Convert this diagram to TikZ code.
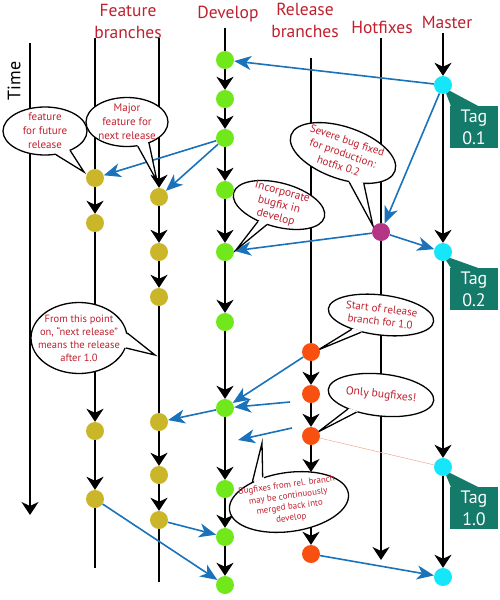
\documentclass[tikz,border=0pt]{standalone}
\usepackage{fontspec}
\setmainfont{PT Sans}
\usetikzlibrary{arrows.meta,shapes.geometric,calc}
\definecolor{devgreen}{RGB}{112,232,28}
\definecolor{featolive}{RGB}{202,182,40}
\definecolor{relorange}{RGB}{248,80,16}
\definecolor{hotpurple}{RGB}{180,52,134}
\definecolor{mascyan}{RGB}{22,230,250}
\definecolor{tagteal}{RGB}{20,122,105}
\definecolor{mergeblue}{RGB}{26,115,186}
\definecolor{textred}{RGB}{192,32,46}
\definecolor{salmon}{RGB}{240,170,150}
\pgfdeclarelayer{bg}
\pgfdeclarelayer{lines}
\pgfdeclarelayer{bubbles}
\pgfsetlayers{bg,lines,bubbles,main}
\newcommand\bubbletail[4]{%
  \fill[white] ($(#1.#2)!1.8pt!(#1.center)$) -- (#4) -- ($(#1.#3)!1.8pt!(#1.center)$) -- cycle;
  \draw[line width=1.3pt,line join=miter] (#1.#2) -- (#4) -- (#1.#3);
}
\begin{document}
\begin{tikzpicture}[x=1pt,y=-1pt,
  commit/.style={circle,minimum size=18pt,inner sep=0pt},
  dev/.style={commit,fill=devgreen},
  feat/.style={commit,fill=featolive},
  rel/.style={commit,fill=relorange},
  hot/.style={commit,fill=hotpurple},
  mas/.style={commit,fill=mascyan},
  branch/.style={line width=1.6pt,draw=black},
  flow/.style={branch,-{Stealth[length=13pt,width=17pt,inset=4pt]}},
  merge/.style={line width=1.6pt,draw=mergeblue,-{Stealth[length=17pt,width=14pt,inset=5pt]}},
  bubble/.style={ellipse,draw=black,line width=1.3pt,fill=white,inner sep=0pt},
  btext/.style={text=textred,align=center,font=\fontsize{9.5}{12.5}\selectfont,inner sep=0pt},
  title/.style={text=textred,align=center,font=\fontsize{17.5}{22}\selectfont,inner sep=0pt},
  tag/.style={fill=tagteal,text=white,minimum width=48pt,minimum height=42pt,align=center,inner sep=0pt,font=\fontsize{18}{22}\selectfont},
]
\useasboundingbox (0,0) rectangle (500,600);
\begin{pgfonlayer}{bg}
\fill[white] (0,0) rectangle (500,600);
\end{pgfonlayer}

% titles
\node[title] (tfeat) at (128,21) {Feature\\branches};
\node[title] (tdev) at (228,14) {Develop};
\node[title] (trel) at (305,20) {Release\\branches};
\node[title] (thot) at (382,27) {Hotfixes};
\node[title] (tmas) at (447,22) {Master};
\node[font=\fontsize{18}{20}\selectfont,rotate=90,inner sep=0pt] (ttime) at (14,81) {Time};

% commits
\node[dev] (d1) at (225,60) {};
\node[dev] (d2) at (225,99) {};
\node[dev] (d3) at (225,138) {};
\node[dev] (d4) at (225,190) {};
\node[dev] (d5) at (225,252) {};
\node[dev] (d6) at (225,322) {};
\node[dev] (d7) at (225,408) {};
\node[dev] (d8) at (225,489) {};
\node[dev] (d9) at (225,537) {};
\node[dev] (d10) at (225,585) {};
\node[feat] (f1a) at (95,178) {};
\node[feat] (f1b) at (95,223) {};
\node[feat] (f1c) at (95,431) {};
\node[feat] (f1d) at (95,499) {};
\node[feat] (f2a) at (159,197) {};
\node[feat] (f2b) at (159,252) {};
\node[feat] (f2c) at (159,297) {};
\node[feat] (f2d) at (159,422) {};
\node[feat] (f2e) at (159,475) {};
\node[feat] (f2f) at (159,520) {};
\node[rel] (r1) at (311,352) {};
\node[rel] (r2) at (311,394) {};
\node[rel] (r3) at (311,436) {};
\node[rel] (r4) at (311,554) {};
\node[hot] (h1) at (381,232) {};
\node[mas] (m1) at (443,85) {};
\node[mas] (m2) at (443,252) {};
\node[mas] (m3) at (443,467) {};
\node[mas] (m4) at (443,577) {};

% tags
\node[tag] (t1) at (474,127) {Tag\\0.1};
\node[tag] (t2) at (474,289) {Tag\\0.2};
\node[tag] (t3) at (474,508) {Tag\\1.0};
\fill[tagteal] (m1.-70) -- ($(t1.north west)+(1,0)$) -- ($(t1.north west)+(28,0)$) -- (m1.-40) -- cycle;
\fill[tagteal] (m2.-70) -- ($(t2.north west)+(1,0)$) -- ($(t2.north west)+(28,0)$) -- (m2.-40) -- cycle;
\fill[tagteal] (m3.-70) -- ($(t3.north west)+(1,0)$) -- ($(t3.north west)+(28,0)$) -- (m3.-40) -- cycle;

% free coordinates
\coordinate (time0) at (30,43);
\coordinate (time1) at (30,515);
\coordinate (f1top) at (95,38);
\coordinate (f1bot) at (95,568);
\coordinate (f2top) at (159,38);
\coordinate (f2bot) at (159,582);
\coordinate (dtop) at (225,28);
\coordinate (rtop) at (311,58);
\coordinate (rmid) at (311,472);
\coordinate (htop) at (381,38);
\coordinate (hbot) at (381,560);
\coordinate (mtop) at (443,33);
\coordinate (a8) at (290,402);
\coordinate (a9) at (292,428);
\coordinate (a9e) at (238,440);

\begin{pgfonlayer}{lines}
  \draw[flow] (time0) -- (time1);
  % feature 1
  \draw[branch] (f1top) -- (f1a);
  \draw[flow] (f1a) -- (f1b);
  \draw[flow] (f1b) -- (f1c);
  \draw[flow] (f1c) -- (f1d);
  \draw[branch] (f1d) -- (f1bot);
  % feature 2
  \draw[flow] (f2top) -- (f2a);
  \draw[flow] (f2a) -- (f2b);
  \draw[flow] (f2b) -- (f2c);
  \draw[branch] (f2c) -- (f2d);
  \draw[flow] (f2d) -- (f2e);
  \draw[flow] (f2e) -- (f2f);
  \draw[branch] (f2f) -- (f2bot);
  % develop
  \draw[branch] (dtop) -- (d1);
  \draw[flow] (d1) -- (d2);
  \draw[flow] (d2) -- (d3);
  \draw[flow] (d3) -- (d4);
  \draw[flow] (d4) -- (d5);
  \draw[flow] (d5) -- (d6);
  \draw[flow] (d6) -- (d7);
  \draw[flow] (d7) -- (d8);
  \draw[flow] (d8) -- (d9);
  \draw[flow] (d9) -- (d10);
  % release
  \draw[branch] (rtop) -- (r1);
  \draw[flow] (r1) -- (r2);
  \draw[flow] (r2) -- (r3);
  \draw[flow] (r3) -- (rmid);
  \draw[flow] (rmid) -- (r4);
  % hotfix
  \draw[branch] (htop) -- (h1);
  \draw[flow] (h1) -- (hbot);
  % master
  \draw[flow] (mtop) -- (m1);
  \draw[flow] (m1) -- (m2);
  \draw[flow] (m2) -- (m3);
  \draw[flow] (m3) -- (m4);
  % merges
  \draw[line width=0.5pt,salmon] (r3) -- (m3);
  \draw[merge] (m1) -- (d1);
  \draw[merge] (m1) -- (h1);
  \draw[merge] (h1) -- (d5);
  \draw[merge] (h1) -- (m2);
  \draw[merge] (d3) -- (f1a);
  \draw[merge] (d3) -- (f2a);
  \draw[merge] (r1) -- (d7);
  \draw[merge] (a8) -- (d7);
  \draw[merge] (a9) -- (a9e);
  \draw[merge] (d7) -- (f2d);
  \draw[merge] (f2f) -- (d9);
  \draw[merge] (f1d) -- (d10);
  \draw[merge] (r4) -- (m4);
\end{pgfonlayer}

\begin{pgfonlayer}{bubbles}
  % B1
  \node[bubble,minimum width=84pt,minimum height=48pt] (b1) at (45,131) {};
  \coordinate (b1tip) at (84,172);
  \bubbletail{b1}{-65}{-38}{b1tip}
  \node[btext,font=\fontsize{11}{14}\selectfont] (b1t) at (b1) {feature\\for future\\release};
  % B2
  \node[bubble,minimum width=82pt,minimum height=49pt] (b2) at (127,122) {};
  \coordinate (b2tip) at (157,181);
  \bubbletail{b2}{-66}{-44}{b2tip}
  \node[btext,font=\fontsize{11}{14}\selectfont] (b2t) at (b2) {Major\\feature for\\next release};
  % B3
  \node[bubble,minimum width=94pt,minimum height=44pt,rotate=-15] (b3) at (279,205) {};
  \coordinate (b3tip) at (236,250);
  \bubbletail{b3}{233}{253}{b3tip}
  \node[btext,font=\fontsize{11.5}{13}\selectfont,rotate=-15] (b3t) at (b3) {Incorporate\\bugfix in\\develop};
  % B4
  \node[bubble,minimum width=110pt,minimum height=52pt,rotate=-19] (b4) at (343,153) {};
  \coordinate (b4tip) at (373,226);
  \bubbletail{b4}{-59}{-37}{b4tip}
  \node[btext,font=\fontsize{11}{13.5}\selectfont,rotate=-19] (b4t) at (b4) {Severe bug fixed\\for production:\\hotfix 0.2};
  % B5
  \node[bubble,minimum width=96pt,minimum height=71pt] (b5) at (79,338) {};
  \coordinate (b5tip) at (155,355);
  \bubbletail{b5}{6}{-12}{b5tip}
  \node[btext,font=\fontsize{10.5}{13}\selectfont] (b5t) at (b5) {From this point\\on, “next release”\\means the release\\after 1.0};
  % B6
  \node[bubble,minimum width=106pt,minimum height=40pt,rotate=-7] (b6) at (381,315) {};
  \coordinate (b6tip) at (318,350);
  \bubbletail{b6}{213}{228}{b6tip}
  \node[btext,font=\fontsize{11}{13}\selectfont,rotate=-7] (b6t) at (b6) {Start of release\\branch for 1.0};
  % B7
  \node[bubble,minimum width=106pt,minimum height=42pt,rotate=-6] (b7) at (381,395) {};
  \coordinate (b7tip) at (318,432);
  \bubbletail{b7}{209}{221}{b7tip}
  \node[btext,font=\fontsize{11.5}{13}\selectfont,rotate=-6] (b7t) at (b7) {Only bugfixes!};
  % B8
  \node[bubble,minimum width=120pt,minimum height=59pt,rotate=8] (b8) at (289,502) {};
  \coordinate (b8tip) at (262,443);
  \bubbletail{b8}{143}{129}{b8tip}
  \node[btext,font=\fontsize{9}{11}\selectfont,rotate=8] (b8t) at (b8) {Bugfixes from rel. branch\\may be continuously\\merged back into\\develop};
\end{pgfonlayer}
\end{tikzpicture}
\end{document}
